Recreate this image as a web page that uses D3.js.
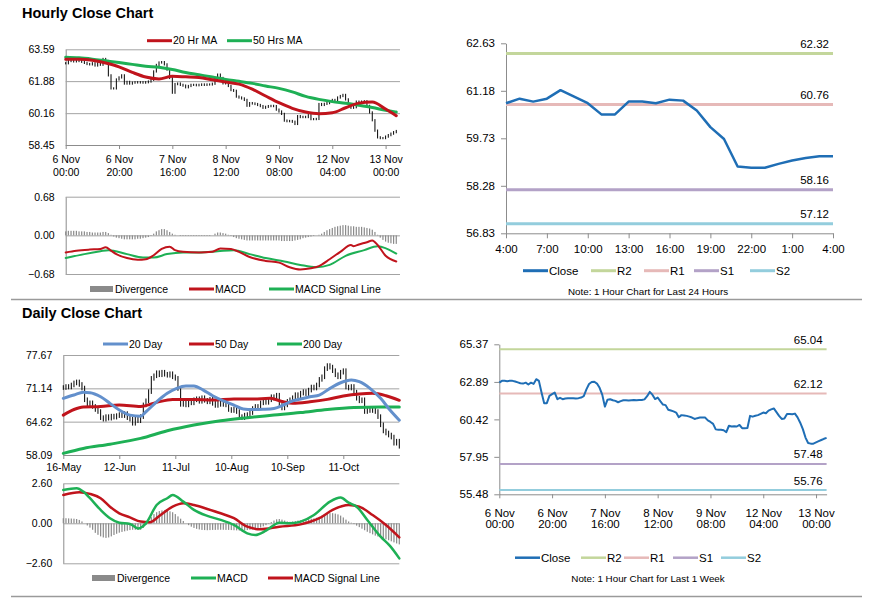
<!DOCTYPE html>
<meta charset="utf-8">
<script src="https://d3js.org/d3.v7.min.js"></script>
<style>
  body { margin: 0; background: #fff; }
</style>
<div id="chart"></div>
<script>

// ---------- hourly data: 6 Nov 00:00 -> 13 Nov 04:00, one close per hour ----------
var hourTicks = [0, 20, 40, 60, 80, 100, 120];
var hourTickDays = ["6 Nov", "6 Nov", "7 Nov", "8 Nov", "9 Nov", "12 Nov", "13 Nov"];
var hourTickTimes = ["00:00", "20:00", "16:00", "12:00", "08:00", "04:00", "00:00"];
var hourYTicks = [58.45, 60.16, 61.88, 63.59];
var hourMacdTicks = [-0.68, 0, 0.68];

var hourClose = [
  62.84, 62.96, 62.96, 62.94, 62.96, 62.96, 62.92, 62.86, 62.80, 62.78,
  62.84, 62.72, 62.84, 62.76, 63.07, 62.96, 62.19, 61.49, 61.49, 61.97,
  62.08, 62.19, 61.75, 61.84, 61.75, 61.80, 61.82, 61.81, 61.82, 61.80,
  61.82, 61.86, 61.95, 62.40, 62.75, 62.88, 62.90, 62.78, 62.50, 62.05,
  61.26, 61.72, 61.75, 61.68, 61.64, 61.55, 61.62, 61.68, 61.68, 61.66,
  61.68, 61.70, 61.68, 61.70, 61.70, 61.74, 61.95, 62.23, 62.05, 61.76,
  61.86, 61.62, 61.40, 61.36, 61.05, 61.00, 60.95, 60.87, 60.56, 60.70,
  60.68, 60.65, 60.60, 60.54, 60.45, 60.50, 60.54, 60.55, 60.54, 60.35,
  60.25, 60.12, 59.76, 59.73, 59.74, 59.70, 59.58, 60.00, 59.95, 59.96,
  59.95, 60.05, 59.84, 59.84, 59.85, 60.65, 60.60, 60.66, 60.70, 60.78,
  60.87, 60.82, 61.00, 61.08, 61.14, 60.90, 60.65, 60.45, 60.48, 60.78,
  60.78, 60.76, 60.80, 60.55, 60.20, 59.78, 59.22, 58.86, 58.82, 58.82,
  58.90, 58.98, 59.06, 59.14, 59.20
];

var hourMA20 = [[0,63.05],[5,63.05],[10,63.00],[15,62.85],[20,62.65],[25,62.35],[30,62.10],[35,62.00],
  [40,62.14],[45,62.11],[50,62.07],[55,61.95],[60,61.83],[65,61.72],[70,61.45],[75,61.08],[80,60.72],
  [85,60.42],[90,60.22],[95,60.13],[100,60.18],[105,60.45],[110,60.70],[115,60.76],[120,60.38],[124,60.02]];
var hourMA50 = [[0,63.16],[5,63.13],[10,63.06],[15,62.97],[20,62.88],[25,62.78],[30,62.68],[35,62.62],
  [40,62.50],[45,62.34],[50,62.22],[55,62.10],[60,61.97],[65,61.87],[70,61.76],[75,61.62],[80,61.49],
  [85,61.30],[90,61.06],[95,60.90],[100,60.78],[105,60.69],[110,60.58],[115,60.46],[120,60.32],[124,60.22]];

var hourMacd = [[0,-0.30],[4,-0.27],[9,-0.25],[13,-0.24],[15,-0.21],[17,-0.27],[19,-0.33],[23,-0.40],
  [27,-0.43],[30,-0.42],[33,-0.35],[36,-0.24],[39,-0.20],[41,-0.26],[44,-0.29],[50,-0.30],[55,-0.29],
  [58,-0.23],[62,-0.24],[65,-0.29],[69,-0.38],[75,-0.45],[80,-0.48],[84,-0.56],[88,-0.60],[92,-0.58],
  [95,-0.54],[99,-0.42],[103,-0.29],[107,-0.17],[108,-0.19],[110,-0.16],[113,-0.12],[115,-0.09],
  [117,-0.17],[120,-0.36],[124,-0.46]];
var hourSignal = [[0,-0.40],[7,-0.33],[13,-0.28],[16,-0.26],[23,-0.33],[29,-0.39],[33,-0.39],[38,-0.33],
  [44,-0.30],[50,-0.30],[57,-0.28],[63,-0.26],[69,-0.33],[75,-0.40],[82,-0.46],[88,-0.52],[94,-0.56],
  [99,-0.52],[105,-0.36],[112,-0.26],[117,-0.19],[124,-0.32]];
var hourDiv = [
  0.07, 0.08, 0.08, 0.08, 0.08, 0.07, 0.07, 0.07, 0.06, 0.06,
  0.05, 0.05, 0.05, 0.05, 0.06, 0.06, 0.04, 0.01, -0.02, -0.04,
  -0.05, -0.06, -0.07, -0.07, -0.07, -0.07, -0.07, -0.06, -0.06, -0.05,
  -0.04, -0.03, -0.01, 0.03, 0.07, 0.09, 0.11, 0.11, 0.09, 0.06,
  0.03, 0.01, 0.00, -0.01, -0.01, -0.01, -0.01, -0.01, -0.01, -0.01,
  -0.01, -0.01, -0.01, -0.01, -0.01, 0.00, 0.03, 0.05, 0.05, 0.04,
  0.03, 0.01, -0.01, -0.03, -0.05, -0.06, -0.07, -0.08, -0.09, -0.09,
  -0.09, -0.09, -0.09, -0.09, -0.09, -0.09, -0.09, -0.09, -0.09, -0.09,
  -0.09, -0.10, -0.10, -0.10, -0.10, -0.10, -0.09, -0.08, -0.07, -0.05,
  -0.04, -0.03, -0.02, -0.01, 0.00, 0.01, 0.03, 0.06, 0.09, 0.11,
  0.13, 0.15, 0.16, 0.17, 0.18, 0.18, 0.17, 0.16, 0.16, 0.15,
  0.15, 0.15, 0.14, 0.13, 0.12, 0.10, 0.06, 0.01, -0.04, -0.08,
  -0.11, -0.13, -0.14, -0.15, -0.15
];

// ---------- last 24 hours ----------
var last24Ticks = [0, 3, 6, 9, 12, 15, 18, 21, 24];
var last24Labels = ["4:00", "7:00", "10:00", "13:00", "16:00", "19:00", "22:00", "1:00", "4:00"];
var last24YTicks = [56.83, 58.28, 59.73, 61.18, 62.63];
var last24Close = [60.80, 60.94, 60.85, 60.94, 61.20, 61.00, 60.80, 60.46, 60.46, 60.85, 60.85, 60.80,
  60.91, 60.88, 60.58, 60.07, 59.71, 58.87, 58.83, 58.83, 58.95, 59.05, 59.13, 59.18, 59.18];

// ---------- pivot levels ----------
var levelNames = ["R2", "R1", "S1", "S2"];
var levels24 = [62.32, 60.76, 58.16, 57.12];
var levelsWeek = [65.04, 62.12, 57.48, 55.76];
var weekYTicks = [55.48, 57.95, 60.42, 62.89, 65.37];

// ---------- daily data: 16 May -> 13 Nov ----------
var dayTicks = [0, 21, 42, 63, 84, 105];
var dayTickLabels = ["16-May", "12-Jun", "11-Jul", "10-Aug", "10-Sep", "11-Oct"];
var dayYTicks = [58.09, 64.62, 71.14, 77.67];
var dayMacdTicks = [-2.6, 0, 2.6];

var dayClose = [
  71.3, 71.5, 71.4, 71.8, 72.2, 72.4, 71.9, 71.2, 68.9, 67.9,
  68.3, 67.6, 67.0, 66.6, 65.4, 65.1, 65.6, 65.3, 65.7, 65.5,
  65.8, 66.0, 65.8, 66.2, 65.4, 65.1, 64.3, 65.2, 64.8, 65.6,
  67.9, 68.7, 70.5, 73.1, 73.6, 74.2, 73.8, 74.3, 73.9, 73.7,
  74.0, 73.4, 73.1, 71.1, 68.0, 68.4, 67.9, 68.6, 68.3, 68.9,
  69.1, 68.6, 69.3, 68.8, 68.5, 69.0, 68.2, 67.8, 68.4, 68.0,
  68.5, 67.9, 67.0, 66.8, 67.1, 66.6, 65.6, 65.4, 65.9, 66.0,
  66.4, 67.2, 67.6, 67.4, 68.3, 68.7, 68.4, 68.9, 69.5, 69.2,
  69.8, 67.8, 67.3, 67.9, 68.6, 68.9, 69.3, 69.9, 69.6, 70.2,
  70.5, 70.1, 70.8, 71.4, 71.2, 71.8, 72.9, 73.4, 75.0, 75.6,
  75.3, 74.6, 73.8, 73.4, 74.3, 74.6, 71.4, 71.2, 71.5, 70.4,
  69.2, 68.7, 68.9, 66.6, 67.0, 66.8, 67.1, 66.6, 65.6, 64.0,
  62.8, 62.4, 62.0, 61.6, 60.4, 60.8, 59.8
];

var dayMA20 = [[0,69.18],[4,69.83],[7.5,70.36],[10,70.3],[14,69.5],[17.5,68.2],[21,66.9],[25,65.9],
  [29,65.7],[31,66.56],[35,68.5],[39,70.16],[42.5,71.14],[46,71.6],[49,71.6],[52.5,70.8],[56,69.7],
  [60,68.7],[64,67.87],[67.5,67.1],[71,67.0],[75,67.05],[79,67.2],[82.5,67.87],[85,68.5],[89,69.05],
  [92.5,69.5],[96,69.83],[100,71.14],[104,72.24],[108,72.77],[111,72.44],[115,71.14],[119,69.18],
  [122.5,66.9],[126,64.9]];
var dayMA50 = [[0,65.9],[4,67.0],[7.5,67.5],[14,67.6],[21,67.87],[29,67.6],[35,68.4],[41,68.98],
  [49,68.98],[56,68.85],[64,69.05],[71,69.05],[77.5,69.18],[82.5,68.5],[86,68.2],[92.5,68.5],
  [99,68.98],[105,69.63],[111,70.03],[116,70.16],[121,69.7],[126,68.8]];
var dayMA200 = [[0,58.4],[7.5,59.38],[17.5,60.2],[29,61.34],[39,62.83],[49,63.95],[59,64.8],
  [69,65.4],[79,65.9],[89,66.4],[99,67.0],[109,67.4],[119,67.5],[126,67.5]];

var dayMacd = [[0,2.17],[5,2.28],[7.5,2.06],[10,1.63],[14,0.87],[17.5,0.33],[21,0.04],[25,-0.04],
  [28,-0.33],[31,0.0],[35,1.19],[39,1.63],[41,1.84],[45,1.41],[49,0.87],[54,0.48],[59,0.22],
  [64,-0.11],[69,-0.65],[72,-0.76],[76,-0.48],[81,0.04],[85,0.0],[89,0.11],[94,0.54],[100,1.41],
  [104,1.67],[107,1.34],[110,1.08],[114,0.22],[119,-0.87],[122.5,-1.47],[126,-2.28]];
var daySignal = [[0,1.84],[6,2.02],[10,1.91],[14,1.63],[17.5,1.08],[21,0.65],[25,0.39],[29,0.11],
  [32.5,0.07],[36,0.48],[41,1.08],[45,1.3],[49,1.19],[54,0.93],[59,0.65],[64,0.33],[69,-0.22],
  [74,-0.39],[81,-0.22],[89,-0.07],[96,0.33],[101,0.87],[107,1.19],[111,1.08],[116,0.54],
  [121,-0.11],[126,-0.91]];
var dayDiv = [
  0.33, 0.33, 0.32, 0.31, 0.30, 0.28, 0.22, 0.12, 0.00, -0.14,
  -0.28, -0.42, -0.62, -0.75, -0.85, -0.92, -0.95, -0.92, -0.85, -0.76,
  -0.68, -0.61, -0.56, -0.52, -0.48, -0.44, -0.42, -0.42, -0.43, -0.42,
  -0.30, -0.10, 0.15, 0.40, 0.60, 0.72, 0.80, 0.84, 0.85, 0.82,
  0.78, 0.72, 0.60, 0.45, 0.30, 0.15, 0.00, -0.12, -0.22, -0.30,
  -0.36, -0.40, -0.43, -0.44, -0.45, -0.44, -0.43, -0.43, -0.42, -0.42,
  -0.42, -0.43, -0.43, -0.44, -0.45, -0.46, -0.47, -0.47, -0.46, -0.44,
  -0.42, -0.40, -0.37, -0.33, -0.28, -0.20, -0.12, -0.03, 0.08, 0.18,
  0.26, 0.28, 0.24, 0.18, 0.12, 0.10, 0.12, 0.15, 0.18, 0.20,
  0.22, 0.24, 0.27, 0.30, 0.32, 0.36, 0.42, 0.50, 0.58, 0.64,
  0.66, 0.66, 0.63, 0.58, 0.50, 0.38, 0.24, 0.12, 0.04, -0.05,
  -0.15, -0.25, -0.35, -0.45, -0.55, -0.64, -0.72, -0.80, -0.86, -0.92,
  -0.98, -1.04, -1.10, -1.17, -1.24, -1.31, -1.37
];

// ---------- styles ----------
var FONT = "'Liberation Sans', Arial, sans-serif";
var GRID = "#a3a3a3", AXIS = "#8c8c8c";
var RED = "#c0141c", GREEN = "#1eb055", BLUE = "#6390cc", CLOSE = "#1f6eb5", BAR = "#8a8a8a";
var levelColors = ["#c3d69b", "#e6b9b8", "#b3a2c7", "#93cddd"];

var svg = d3.select("#chart").append("svg")
    .attr("width", 873)
    .attr("height", 601)
    .style("font-family", FONT);
svg.append("rect").attr("width", 873).attr("height", 601).attr("fill", "#fff");

// y axis with grid lines across the plot
function gridAxis(x0, x1, y, ticks, size) {
  var g = svg.append("g")
      .attr("transform", "translate(" + x0 + ",0)")
      .call(d3.axisLeft(y).tickValues(ticks).tickFormat(d3.format(".2f"))
        .tickSize(-(x1 - x0)).tickSizeOuter(0).tickPadding(11));
  g.attr("font-family", FONT);
  g.select(".domain").attr("stroke", AXIS);
  g.selectAll(".tick line").attr("stroke", GRID);
  g.selectAll(".tick text").attr("font-size", size).attr("fill", "#000");
  return g;
}

// plain y axis with small ticks
function plainAxis(x0, y, ticks, size) {
  var g = svg.append("g")
      .attr("transform", "translate(" + x0 + ",0)")
      .call(d3.axisLeft(y).tickValues(ticks).tickFormat(d3.format(".2f"))
        .tickSize(5).tickSizeOuter(0).tickPadding(6));
  g.attr("font-family", FONT);
  g.select(".domain").attr("stroke", AXIS);
  g.selectAll(".tick line").attr("stroke", AXIS);
  g.selectAll(".tick text").attr("font-size", size).attr("fill", "#000");
  return g;
}

function bottomAxis(y0, x, ticks, labels, size, pad) {
  var g = svg.append("g")
      .attr("transform", "translate(0," + y0 + ")")
      .call(d3.axisBottom(x).tickValues(ticks).tickFormat(function(d, i) { return labels[i]; })
        .tickSize(4).tickSizeOuter(0).tickPadding(pad));
  g.attr("font-family", FONT);
  g.select(".domain").attr("stroke", AXIS);
  g.selectAll(".tick line").attr("stroke", AXIS);
  g.selectAll(".tick text").attr("font-size", size).attr("fill", "#000");
  return g;
}

function twoLines(g, tops, bottoms, y1, y2) {
  g.selectAll(".tick text").each(function(d, i) {
    var t = d3.select(this).text(null).attr("dy", null).attr("y", null);
    t.append("tspan").attr("x", 0).attr("y", y1).text(tops[i]);
    t.append("tspan").attr("x", 0).attr("y", y2).text(bottoms[i]);
  });
}

function legendLine(x, y, color, label, size, w) {
  svg.append("line").attr("x1", x).attr("x2", x + 25).attr("y1", y).attr("y2", y)
    .attr("stroke", color).attr("stroke-width", w);
  svg.append("text").attr("x", x + 26).attr("y", y).attr("dy", "0.35em")
    .attr("font-size", size).text(label);
}

function legendBox(x, y, color, label, size) {
  svg.append("rect").attr("x", x).attr("y", y - 3).attr("width", 23).attr("height", 6).attr("fill", color);
  svg.append("text").attr("x", x + 25).attr("y", y).attr("dy", "0.35em")
    .attr("font-size", size).text(label);
}

function pairLine(data, x, y, color, w) {
  svg.append("path").datum(data)
    .attr("fill", "none").attr("stroke", color).attr("stroke-width", w)
    .attr("stroke-linejoin", "round").attr("stroke-linecap", "round")
    .attr("d", d3.line().x(function(d) { return x(d[0]); }).y(function(d) { return y(d[1]); })
      .curve(d3.curveMonotoneX));
}

function priceBars(data, x, y, pad) {
  svg.append("g").selectAll("line")
    .data(data)
    .enter()
    .append("line")
      .attr("x1", function(d, i) { return x(i); })
      .attr("x2", function(d, i) { return x(i); })
      .attr("y1", function(d, i) { var p = i ? data[i - 1] : d; return y(Math.max(p, d) + pad); })
      .attr("y2", function(d, i) { var p = i ? data[i - 1] : d; return y(Math.min(p, d) - pad); })
      .attr("stroke", "#000")
      .attr("stroke-width", 1);
}

function divBars(data, x, y) {
  svg.append("g").selectAll("rect")
    .data(data)
    .enter()
    .append("rect")
      .attr("x", function(d, i) { return x(i) - 0.6; })
      .attr("width", 1.2)
      .attr("y", function(d) { return Math.min(y(d), y(0)); })
      .attr("height", function(d) { return Math.abs(y(d) - y(0)); })
      .attr("fill", BAR);
}

function levelLines(levels, x, y, x0, x1, w, size) {
  levels.forEach(function(v, i) {
    svg.append("line").attr("x1", x0).attr("x2", x1).attr("y1", y(v)).attr("y2", y(v))
      .attr("stroke", levelColors[i]).attr("stroke-width", w);
    svg.append("text").attr("x", x1 - 4).attr("y", y(v) - 5.5).attr("text-anchor", "end")
      .attr("font-size", size).text(d3.format(".2f")(v));
  });
}

// ---------- titles & separators ----------
svg.append("text").attr("x", 22).attr("y", 18).attr("font-size", 14.5).attr("font-weight", "bold").text("Hourly Close Chart");
svg.append("text").attr("x", 22).attr("y", 318).attr("font-size", 14.5).attr("font-weight", "bold").text("Daily Close Chart");
[299.5, 596.5].forEach(function(yy) {
  svg.append("line").attr("x1", 11).attr("x2", 862).attr("y1", yy).attr("y2", yy)
    .attr("stroke", "#9a9a9a").attr("stroke-width", 1.5);
});

// ---------- hourly close chart (top left) ----------
var xH = d3.scaleLinear().domain([0, 125.4]).range([65.7, 400]);
var yH = d3.scaleLinear().domain([58.45, 63.59]).range([145, 49.3]);
gridAxis(65.7, 400, yH, hourYTicks, 10.5);
var gxH = bottomAxis(145, xH, hourTicks, hourTickDays, 10.5, 3);
twoLines(gxH, hourTickDays, hourTickTimes, 18, 31);
priceBars(hourClose, xH, yH, 0.06);
pairLine(hourMA50, xH, yH, GREEN, 3);
pairLine(hourMA20, xH, yH, RED, 3);
legendLine(147, 40.7, RED, "20 Hr MA", 10.5, 3);
legendLine(227, 40.7, GREEN, "50 Hrs MA", 10.5, 3);

// hourly MACD
var yHm = d3.scaleLinear().domain([-0.68, 0.68]).range([274, 196.7]);
gridAxis(65.7, 400, yHm, hourMacdTicks, 10.5);
divBars(hourDiv, xH, yHm);
pairLine(hourSignal, xH, yHm, GREEN, 2);
pairLine(hourMacd, xH, yHm, RED, 2);
legendBox(90, 289, BAR, "Divergence", 10.5);
legendLine(189, 289, RED, "MACD", 10.5, 3);
legendLine(269, 289, GREEN, "MACD Signal Line", 10.5, 3);

// ---------- last 24 hours (top right) ----------
var x24 = d3.scaleLinear().domain([0, 24]).range([506, 833]);
var y24 = d3.scaleLinear().domain([56.83, 62.63]).range([233.3, 43.3]);
plainAxis(506, y24, last24YTicks, 11.5);
var gx24 = bottomAxis(233.3, x24, last24Ticks, last24Labels, 11.5, 8);
gx24.selectAll(".tick line").attr("y2", 5);
levelLines(levels24, x24, y24, 506, 833, 3, 11.5);
svg.append("path").datum(last24Close)
  .attr("fill", "none").attr("stroke", CLOSE).attr("stroke-width", 2.5).attr("stroke-linejoin", "round")
  .attr("d", d3.line().x(function(d, i) { return x24(i); }).y(function(d) { return y24(d); }));
legendLine(523, 270.7, CLOSE, "Close", 11.5, 3);
levelNames.forEach(function(n, i) {
  legendLine([591, 644, 694, 750][i], 270.7, levelColors[i], n, 11.5, 3);
});
svg.append("text").attr("x", 648).attr("y", 295).attr("text-anchor", "middle").attr("font-size", 9.8)
  .text("Note: 1 Hour Chart for Last 24 Hours");

// ---------- daily close chart (bottom left) ----------
var xD = d3.scaleLinear().domain([0, 126]).range([63.3, 399.3]);
var yD = d3.scaleLinear().domain([58.09, 77.67]).range([455, 355]);
gridAxis(63.3, 399.3, yD, dayYTicks, 10.5);
bottomAxis(455, xD, dayTicks, dayTickLabels, 10.5, 5);
priceBars(dayClose, xD, yD, 0.45);
pairLine(dayMA200, xD, yD, GREEN, 3);
pairLine(dayMA50, xD, yD, RED, 3);
pairLine(dayMA20, xD, yD, BLUE, 3);
legendLine(103, 344, BLUE, "20 Day", 10.5, 3);
legendLine(189, 344, RED, "50 Day", 10.5, 3);
legendLine(277, 344, GREEN, "200 Day", 10.5, 3);

// daily MACD
var yDm = d3.scaleLinear().domain([-2.6, 2.6]).range([563.3, 483.3]);
gridAxis(63.3, 399.3, yDm, dayMacdTicks, 10.5);
divBars(dayDiv, xD, yDm);
pairLine(daySignal, xD, yDm, RED, 2.5);
pairLine(dayMacd, xD, yDm, GREEN, 2.5);
legendBox(92, 578, BAR, "Divergence", 10.5);
legendLine(191, 578, GREEN, "MACD", 10.5, 3);
legendLine(268, 578, RED, "MACD Signal Line", 10.5, 3);

// ---------- last week hourly (bottom right) ----------
var xW = d3.scaleLinear().domain([0, 124]).range([499.3, 826.6]);
var yW = d3.scaleLinear().domain([55.48, 65.37]).range([494.3, 344.3]);
plainAxis(499.3, yW, weekYTicks, 11.5);
var gxW = bottomAxis(494.3, xW, hourTicks, hourTickDays, 11.5, 3);
twoLines(gxW, hourTickDays, hourTickTimes, 23, 34);
levelLines(levelsWeek, xW, yW, 499.3, 826.6, 2, 11.5);
svg.append("path").datum(hourClose)
  .attr("fill", "none").attr("stroke", CLOSE).attr("stroke-width", 2).attr("stroke-linejoin", "round")
  .attr("d", d3.line().x(function(d, i) { return xW(i); }).y(function(d) { return yW(d); }));
legendLine(515, 557.7, CLOSE, "Close", 11.5, 2.5);
levelNames.forEach(function(n, i) {
  legendLine([581, 624, 673, 721][i], 557.7, levelColors[i], n, 11.5, 2.5);
});
svg.append("text").attr("x", 648).attr("y", 581.5).attr("text-anchor", "middle").attr("font-size", 9.8)
  .text("Note: 1 Hour Chart for Last 1 Week");

</script>
